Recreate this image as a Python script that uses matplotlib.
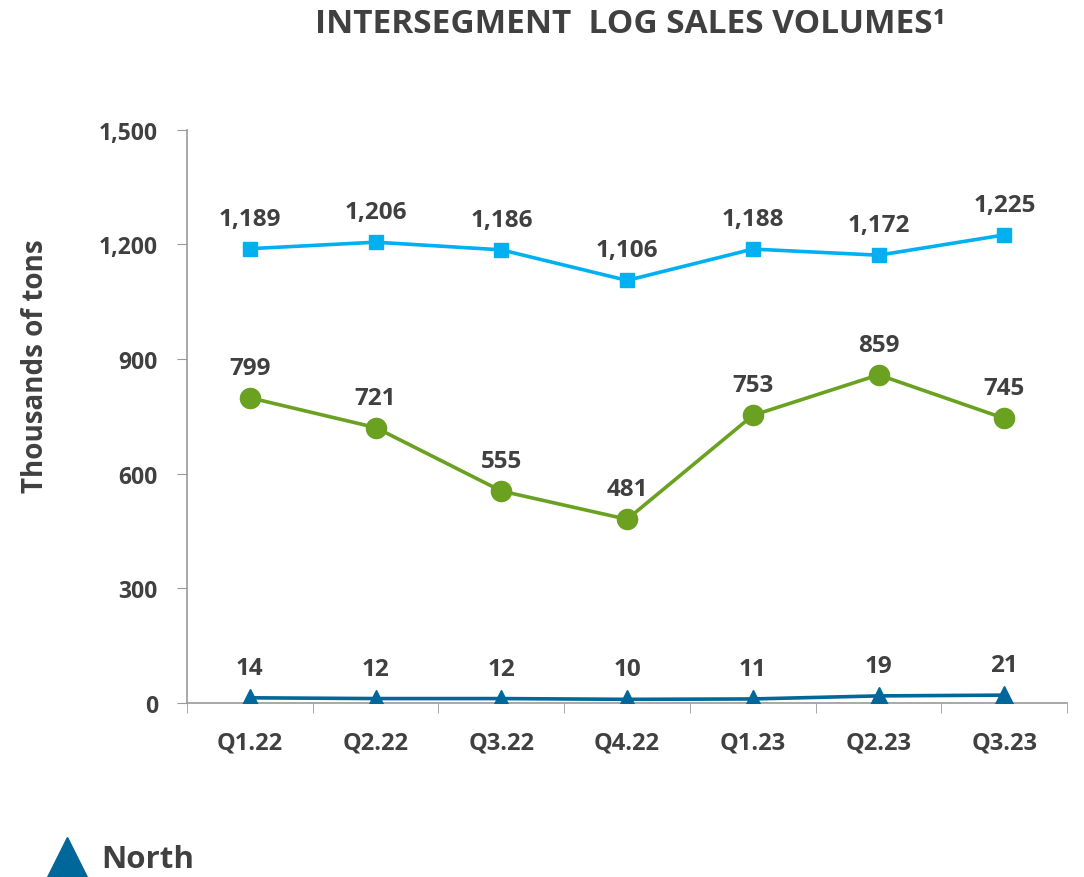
#!/usr/bin/env python3
"""Intersegment log sales volumes by quarter."""

import matplotlib

matplotlib.use("Agg")

import matplotlib.pyplot as plt

quarters = ["Q1.22", "Q2.22", "Q3.22", "Q4.22", "Q1.23", "Q2.23", "Q3.23"]
series_top = [1189, 1206, 1186, 1106, 1188, 1172, 1225]
series_mid = [799, 721, 555, 481, 753, 859, 745]
north = [14, 12, 12, 10, 11, 19, 21]
y_ticks = [0, 300, 600, 900, 1200, 1500]

TEXT = "#404040"
AXIS = "#999999"
plt.rcParams["font.family"] = ["Open Sans", "DejaVu Sans"]
plt.rcParams["font.weight"] = "bold"

fig = plt.figure(figsize=(10.84, 8.78), dpi=100)
ax = fig.add_axes([0.1725, 0.198, 0.812, 0.653])

x = list(range(len(quarters)))
ax.plot(x, series_top, color="#00B0F0", linewidth=2.6, marker="s", markersize=10.5, zorder=3)
ax.plot(x, series_mid, color="#6AA121", linewidth=2.6, marker="o", markersize=14.5, zorder=3)
ax.plot(x, north, color="#00679A", linewidth=2.6, marker="^", markersize=13, zorder=3)

for vals in (series_top, series_mid, north):
    for xi, v in zip(x, vals):
        ax.annotate(f"{v:,}", xy=(xi, v), xytext=(0, 13), textcoords="offset points",
                    ha="center", va="bottom", fontsize=17.5, color=TEXT, fontweight="bold")

ax.set_xlim(-0.5, len(quarters) - 0.5)
ax.set_ylim(0, 1500)
ax.set_yticks(y_ticks)
ax.set_yticklabels([f"{t:,}" for t in y_ticks])
ax.set_xticks(x)
ax.set_xticklabels(quarters)
ax.set_xticks([i - 0.5 for i in range(len(quarters) + 1)], minor=True)
ax.tick_params(axis="x", which="major", length=0, pad=20, labelsize=17, labelcolor=TEXT)
ax.tick_params(axis="x", which="minor", length=7, color=AXIS, direction="out")
ax.tick_params(axis="y", length=7, color=AXIS, pad=14, labelsize=16.5, labelcolor=TEXT)
for side in ("top", "right"):
    ax.spines[side].set_visible(False)
for side in ("left", "bottom"):
    ax.spines[side].set_color(AXIS)
    ax.spines[side].set_linewidth(1.2)

fig.text(0.033, 0.583, "Thousands of tons", rotation=90, ha="center", va="center",
         fontsize=20, color=TEXT, fontweight="bold")
fig.text(0.581, 0.972, "INTERSEGMENT  LOG SALES VOLUMES¹", ha="center", va="center",
         fontsize=24, color=TEXT, fontweight="bold")

# legend
fig.lines.append(plt.Line2D([0.062], [0.021], marker="^", markersize=32, color="#00679A",
                            linestyle="none", transform=fig.transFigure))
fig.text(0.093, 0.02, "North", ha="left", va="center", fontsize=22.5, color=TEXT,
         fontweight="bold")

fig.savefig("out.png", dpi=100)
